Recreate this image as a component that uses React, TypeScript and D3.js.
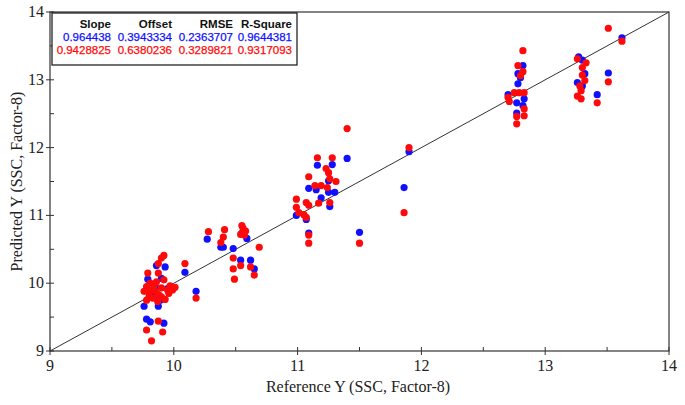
import React from "react";
import * as d3 from "d3";

const blueX = [9.86, 9.93, 10.09, 9.79, 9.9, 9.85, 9.89, 9.76, 9.875, 9.78, 9.81, 9.92, 10.18, 9.83, 9.95, 9.88,
  10.27, 10.38, 10.4, 10.48, 10.55, 10.59, 10.54, 10.62, 10.65,
  11.4, 11.16, 11.28, 11.25, 11.09, 11.15, 11.25, 11.3, 11.19, 11.26, 10.99, 11.07, 11.09, 11.5, 11.86, 11.9,
  12.82, 12.78, 12.8, 12.78, 12.7, 12.83, 12.77, 12.82, 12.77,
  13.27, 13.3, 13.62, 13.32, 13.26, 13.3, 13.51, 13.42];
const blueY = [10.26, 10.24, 10.16, 10.06, 10.07, 9.95, 9.75, 9.66, 9.66, 9.47, 9.43, 9.41, 9.88, 9.85, 9.92, 9.8,
  10.65, 10.53, 10.53, 10.51, 10.74, 10.66, 10.34, 10.34, 10.21,
  11.84, 11.74, 11.75, 11.51, 11.4, 11.38, 11.34, 11.34, 11.26, 11.13, 11.0, 10.94, 10.74, 10.75, 11.41, 11.94,
  13.21, 13.09, 13.03, 12.94, 12.78, 12.72, 12.66, 12.62, 12.51,
  13.34, 13.29, 13.62, 13.09, 12.96, 12.91, 13.1, 12.78];

const redX = [9.92, 9.9, 9.875, 10.09, 9.79, 9.875, 9.81, 10.01, 9.96, 9.78, 9.875, 9.78, 9.91, 9.82, 10.18,
  9.78, 9.82, 9.85, 9.88, 9.9, 9.8, 9.84, 9.9, 9.95, 9.97, 9.93, 9.87, 9.8, 9.76, 9.86, 9.92, 9.83, 9.99,
  10.28, 10.41, 10.4, 10.38, 10.55, 10.56, 10.58, 10.54, 10.57, 10.69, 10.48, 10.54, 10.62, 10.48, 10.65, 10.49,
  11.4, 11.16, 11.28, 11.23, 11.25, 11.09, 11.26, 11.31, 11.14, 11.19, 11.24, 10.99, 11.07, 11.09, 11.17, 11.26, 10.99, 11.01, 11.05, 11.07, 11.09, 11.09, 11.5, 11.86, 11.9,
  12.82, 12.78, 12.82, 12.8, 12.75, 12.79, 12.83, 12.7, 12.71, 12.83, 12.77, 12.83, 12.77,
  13.51, 13.62, 13.26, 13.33, 13.3, 13.3, 13.32, 13.28, 13.29, 13.26, 13.29, 13.51, 13.42];
const redY = [10.41, 10.37, 10.29, 10.29, 10.15, 10.15, 10.0, 9.94, 9.85, 9.75, 9.44, 9.31, 9.28, 9.15, 9.78,
  9.95, 9.9, 9.88, 9.83, 9.8, 9.8, 9.97, 9.93, 9.9, 9.96, 9.76, 9.73, 9.86, 9.88, 10.02, 10.05, 9.78, 9.9,
  10.76, 10.79, 10.68, 10.6, 10.85, 10.81, 10.77, 10.72, 10.71, 10.53, 10.37, 10.26, 10.24, 10.21, 10.12, 10.06,
  12.28, 11.85, 11.85, 11.69, 11.63, 11.57, 11.54, 11.5, 11.44, 11.44, 11.41, 11.24, 11.19, 11.15, 11.18, 11.19, 11.12, 11.04, 11.01, 10.97, 10.71, 10.59, 10.59, 11.04, 12.0,
  13.43, 13.21, 13.12, 13.06, 12.81, 12.81, 12.81, 12.74, 12.68, 12.57, 12.46, 12.47, 12.35,
  13.76, 13.57, 13.31, 13.25, 13.18, 13.07, 12.99, 12.91, 12.84, 12.76, 12.72, 12.97, 12.66];

const majorTicks = [9, 10, 11, 12, 13, 14];
const minorTicks = [9.5, 10.5, 11.5, 12.5, 13.5];

const statHeaders = ["Slope", "Offset", "RMSE", "R-Square"];
const blueStats = ["0.964438", "0.3943334", "0.2363707", "0.9644381"];
const redStats = ["0.9428825", "0.6380236", "0.3289821", "0.9317093"];

const xTitle = "Reference Y (SSC, Factor-8)";
const yTitle = "Predicted Y (SSC, Factor-8)";

export default function App() {
  const W = 685, H = 405;
  const left = 50, right = 669, top = 12, bottom = 351;
  const x = d3.scaleLinear().domain([9, 14]).range([left, right]);
  const y = d3.scaleLinear().domain([9, 14]).range([bottom, top]);
  const blue = blueX.map((v, i) => [v, blueY[i]]);
  const red = redX.map((v, i) => [v, redY[i]]);
  const line = d3.line<number[]>().x(d => x(d[0])).y(d => y(d[1]));
  const colRight = [111, 172, 233, 292];
  const serif = "'Liberation Serif', 'Times New Roman', serif";
  const sans = "'Liberation Sans', Arial, sans-serif";
  const blueC = "#1010ff";
  const redC = "#ff0a0a";
  return (
    <div style={{ position: "fixed", left: 0, top: 0 }}>
      <svg width={W} height={H} style={{ display: "block", background: "#fff" }}>
        <rect x={0} y={0} width={W} height={H} fill="#fff" />
        <path d={line([[9, 9], [14, 14]]) || ""} stroke="#333" strokeWidth={1} fill="none" />
        {blue.map((d, i) => (
          <circle key={"b" + i} cx={x(d[0])} cy={y(d[1])} r={3.6} fill={blueC} />
        ))}
        {red.map((d, i) => (
          <circle key={"r" + i} cx={x(d[0])} cy={y(d[1])} r={3.6} fill={redC} />
        ))}
        <rect x={left} y={top} width={right - left} height={bottom - top} fill="none" stroke="#333" strokeWidth={1.2} />
        {majorTicks.map(t => (
          <g key={"mx" + t}>
            <line x1={x(t)} x2={x(t)} y1={bottom} y2={bottom + 4} stroke="#333" />
            <line x1={x(t)} x2={x(t)} y1={bottom} y2={bottom - 4} stroke="#333" />
            <line x1={left - 4} x2={left + 4} y1={y(t)} y2={y(t)} stroke="#333" />
            <text x={x(t)} y={bottom + 20} textAnchor="middle" fontFamily={serif} fontSize={16} fill="#222">{t}</text>
            <text x={left - 6} y={y(t) + 5} textAnchor="end" fontFamily={serif} fontSize={16} fill="#222">{t}</text>
          </g>
        ))}
        {minorTicks.map(t => (
          <g key={"mn" + t}>
            <line x1={x(t)} x2={x(t)} y1={bottom} y2={bottom - 4} stroke="#333" />
            <line x1={left} x2={left + 4} y1={y(t)} y2={y(t)} stroke="#333" />
          </g>
        ))}
        <text x={358} y={392} textAnchor="middle" fontFamily={serif} fontSize={16} fill="#222">{xTitle}</text>
        <text transform={`translate(22,${(top + bottom) / 2}) rotate(-90)`} textAnchor="middle" fontFamily={serif} fontSize={16} fill="#222">{yTitle}</text>
        <rect x={52} y={13} width={245} height={52} fill="#fff" stroke="#111" strokeWidth={1.2} />
        {statHeaders.map((h, i) => (
          <text key={"h" + i} x={colRight[i]} y={28} textAnchor="end" fontFamily={sans} fontSize={11.5} fontWeight="bold" fill="#111">{h}</text>
        ))}
        {blueStats.map((h, i) => (
          <text key={"bs" + i} x={colRight[i]} y={41} textAnchor="end" fontFamily={sans} fontSize={11.5} fill={blueC} stroke={blueC} strokeWidth={0.25}>{h}</text>
        ))}
        {redStats.map((h, i) => (
          <text key={"rs" + i} x={colRight[i]} y={54} textAnchor="end" fontFamily={sans} fontSize={11.5} fill={redC} stroke={redC} strokeWidth={0.25}>{h}</text>
        ))}
      </svg>
    </div>
  );
}
